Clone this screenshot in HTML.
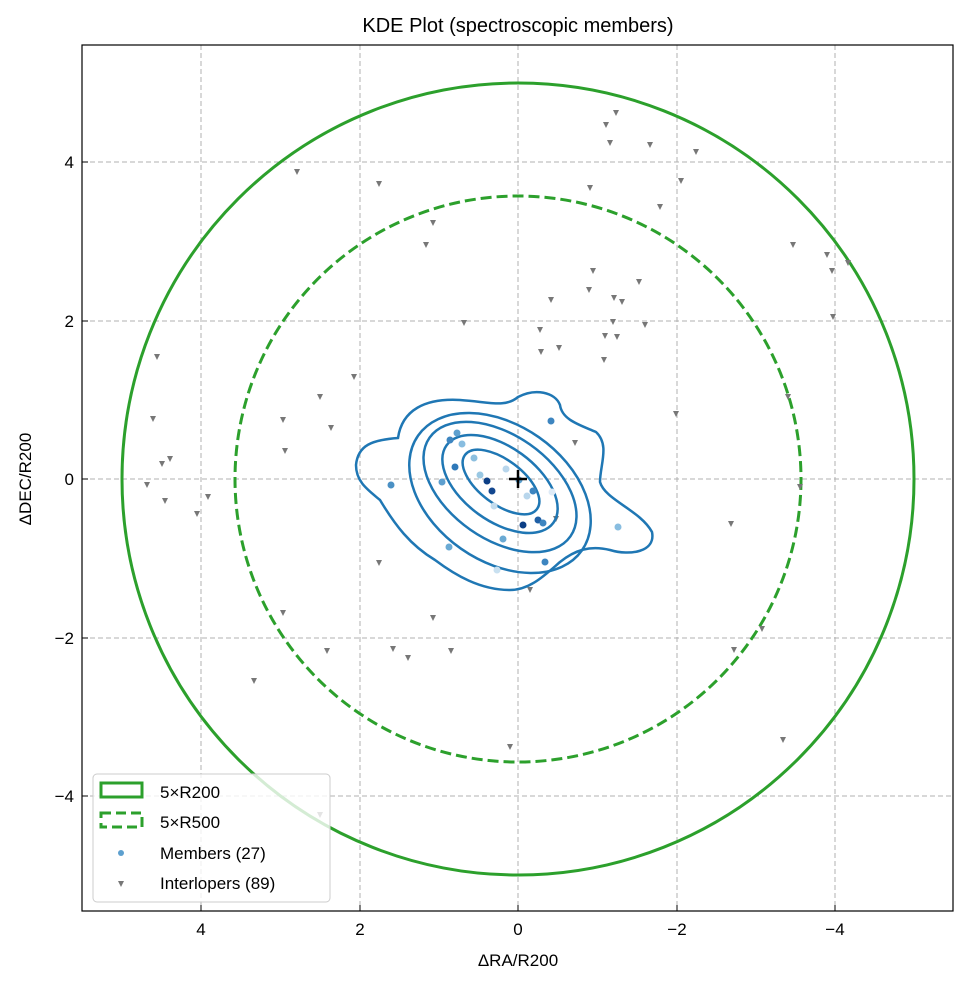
<!DOCTYPE html>
<html><head><meta charset="utf-8"><style>body{margin:0;background:#fff}svg text{font-family:"Liberation Sans",sans-serif;font-size:17px;fill:#000}</style></head><body>
<svg width="969" height="984" viewBox="0 0 969 984" xmlns="http://www.w3.org/2000/svg">
<rect width="969" height="984" fill="#fff"/>
<g stroke="#b0b0b0" stroke-width="1" stroke-dasharray="5,3">
<line x1="201" y1="45" x2="201" y2="911"/><line x1="360" y1="45" x2="360" y2="911"/><line x1="518" y1="45" x2="518" y2="911"/><line x1="677" y1="45" x2="677" y2="911"/><line x1="835" y1="45" x2="835" y2="911"/>
<line x1="82" y1="162" x2="953" y2="162"/><line x1="82" y1="321" x2="953" y2="321"/><line x1="82" y1="479" x2="953" y2="479"/><line x1="82" y1="638" x2="953" y2="638"/><line x1="82" y1="796" x2="953" y2="796"/>
</g>
<circle cx="518" cy="479" r="396" fill="none" stroke="#2ca02c" stroke-width="3"/>
<circle cx="518" cy="479" r="283" fill="none" stroke="#2ca02c" stroke-width="3" stroke-dasharray="11,5"/>
<g fill="#777">
<polygon points="154,354 160,354 157,360"/><polygon points="150,416 156,416 153,422"/><polygon points="159,461 165,461 162,467"/><polygon points="167,456 173,456 170,462"/><polygon points="162,498 168,498 165,504"/><polygon points="144,482 150,482 147,488"/><polygon points="194,511 200,511 197,517"/><polygon points="205,494 211,494 208,500"/><polygon points="282,448 288,448 285,454"/><polygon points="280,417 286,417 283,423"/><polygon points="317,394 323,394 320,400"/><polygon points="328,425 334,425 331,431"/><polygon points="351,374 357,374 354,380"/><polygon points="294,169 300,169 297,175"/><polygon points="376,181 382,181 379,187"/><polygon points="430,220 436,220 433,226"/><polygon points="423,242 429,242 426,248"/><polygon points="461,320 467,320 464,326"/><polygon points="376,560 382,560 379,566"/><polygon points="430,615 436,615 433,621"/><polygon points="390,646 396,646 393,652"/><polygon points="405,655 411,655 408,661"/><polygon points="448,648 454,648 451,654"/><polygon points="280,610 286,610 283,616"/><polygon points="324,648 330,648 327,654"/><polygon points="251,678 257,678 254,684"/><polygon points="317,812 323,812 320,818"/><polygon points="507,744 513,744 510,750"/><polygon points="527,587 533,587 530,593"/><polygon points="537,327 543,327 540,333"/><polygon points="538,349 544,349 541,355"/><polygon points="548,297 554,297 551,303"/><polygon points="556,345 562,345 559,351"/><polygon points="572,440 578,440 575,446"/><polygon points="586,287 592,287 589,293"/><polygon points="613,110 619,110 616,116"/><polygon points="603,122 609,122 606,128"/><polygon points="607,140 613,140 610,146"/><polygon points="647,142 653,142 650,148"/><polygon points="693,149 699,149 696,155"/><polygon points="657,204 663,204 660,210"/><polygon points="678,178 684,178 681,184"/><polygon points="587,185 593,185 590,191"/><polygon points="590,268 596,268 593,274"/><polygon points="619,299 625,299 622,305"/><polygon points="611,295 617,295 614,301"/><polygon points="610,319 616,319 613,325"/><polygon points="602,333 608,333 605,339"/><polygon points="614,334 620,334 617,340"/><polygon points="601,357 607,357 604,363"/><polygon points="636,279 642,279 639,285"/><polygon points="642,322 648,322 645,328"/><polygon points="673,411 679,411 676,417"/><polygon points="728,521 734,521 731,527"/><polygon points="731,647 737,647 734,653"/><polygon points="759,626 765,626 762,632"/><polygon points="790,242 796,242 793,248"/><polygon points="824,252 830,252 827,258"/><polygon points="829,268 835,268 832,274"/><polygon points="845,260 851,260 848,266"/><polygon points="830,314 836,314 833,320"/><polygon points="785,394 791,394 788,400"/><polygon points="797,484 803,484 800,490"/><polygon points="780,737 786,737 783,743"/><polygon points="553,516 559,516 556,522"/>
</g>
<g fill="none" stroke="#1f77b4" stroke-width="2.5">
<path d="M356,465 C358,445 372,440 398,438 C402,410 425,398 460,400 C490,402 505,408 518,397 C535,388 555,392 560,405 C562,420 580,425 596,432 C610,445 600,465 600,482 C605,500 640,510 652,532 C656,552 630,556 610,550 C590,545 575,550 560,562 C545,575 530,590 510,590 C480,590 455,575 435,560 C410,545 395,525 380,500 C368,490 356,482 356,465 Z"/>
<ellipse cx="500" cy="493" rx="100" ry="68" transform="rotate(35 500 493)"/>
<ellipse cx="500" cy="487" rx="86" ry="52" transform="rotate(35 500 487)"/>
<ellipse cx="500" cy="484" rx="66" ry="37" transform="rotate(36 500 484)"/>
<ellipse cx="501" cy="482" rx="45" ry="22" transform="rotate(37 501 482)"/>
</g>
<g>
<circle cx="391" cy="485" r="3.5" fill="#4a90c4"/><circle cx="457" cy="433" r="3.5" fill="#5da0cf"/><circle cx="450" cy="440" r="3.5" fill="#3d85c0"/><circle cx="462" cy="444" r="3.5" fill="#88bde0"/><circle cx="474" cy="458" r="3.5" fill="#8cbfdf"/><circle cx="455" cy="467" r="3.5" fill="#2f78b8"/><circle cx="442" cy="482" r="3.5" fill="#5d9fcf"/><circle cx="480" cy="475" r="3.5" fill="#9ac8e3"/><circle cx="487" cy="481" r="3.5" fill="#0c3f86"/><circle cx="492" cy="491" r="3.5" fill="#13478f"/><circle cx="494" cy="506" r="3.5" fill="#c2dcee"/><circle cx="506" cy="469" r="3.5" fill="#b8d6ec"/><circle cx="519" cy="480" r="3.5" fill="#5da0cf"/><circle cx="533" cy="491" r="3.5" fill="#3d85c0"/><circle cx="527" cy="496" r="3.5" fill="#b8d6ec"/><circle cx="552" cy="492" r="3.5" fill="#deebf7"/><circle cx="538" cy="520" r="3.5" fill="#1f5fa5"/><circle cx="543" cy="523" r="3.5" fill="#3d85c0"/><circle cx="523" cy="525" r="3.5" fill="#0c3f86"/><circle cx="503" cy="539" r="3.5" fill="#6aaad4"/><circle cx="449" cy="547" r="3.5" fill="#6aaad4"/><circle cx="545" cy="562" r="3.5" fill="#3d85c0"/><circle cx="497" cy="570" r="3.5" fill="#c8e0f0"/><circle cx="551" cy="421" r="3.5" fill="#3d85c0"/><circle cx="618" cy="527" r="3.5" fill="#88bde0"/>
</g>
<g stroke="#000" stroke-width="2.5"><line x1="509" y1="479" x2="527" y2="479"/><line x1="518" y1="470" x2="518" y2="488"/></g>
<rect x="82" y="45" width="871" height="866" fill="none" stroke="#000" stroke-width="1.2"/>
<g stroke="#000" stroke-width="1">
<line x1="201" y1="911" x2="201" y2="905"/><line x1="360" y1="911" x2="360" y2="905"/><line x1="518" y1="911" x2="518" y2="905"/><line x1="677" y1="911" x2="677" y2="905"/><line x1="835" y1="911" x2="835" y2="905"/>
<line x1="82" y1="162" x2="88" y2="162"/><line x1="82" y1="321" x2="88" y2="321"/><line x1="82" y1="479" x2="88" y2="479"/><line x1="82" y1="638" x2="88" y2="638"/><line x1="82" y1="796" x2="88" y2="796"/>
</g>
<g text-anchor="middle"><text x="201" y="935">4</text><text x="360" y="935">2</text><text x="518" y="935">0</text><text x="677" y="935">−2</text><text x="835" y="935">−4</text></g>
<g text-anchor="end"><text x="74" y="168">4</text><text x="74" y="327">2</text><text x="74" y="485">0</text><text x="74" y="644">−2</text><text x="74" y="802">−4</text></g>
<text x="518" y="966" text-anchor="middle">ΔRA/R200</text>
<text x="0" y="0" text-anchor="middle" transform="translate(31,479) rotate(-90)">ΔDEC/R200</text>
<text x="518" y="32" text-anchor="middle" style="font-size:20px">KDE Plot (spectroscopic members)</text>
<rect x="93" y="774" width="237" height="128" rx="4" fill="#fff" fill-opacity="0.8" stroke="#ccc"/>
<rect x="101" y="783" width="41" height="14" fill="none" stroke="#2ca02c" stroke-width="3"/>
<rect x="101" y="813" width="41" height="14" fill="none" stroke="#2ca02c" stroke-width="3" stroke-dasharray="10,5"/>
<circle cx="121" cy="853" r="3" fill="#5da0cf"/>
<polygon points="118,881 124,881 121,887" fill="#777"/>
<text x="160" y="798">5×R200</text><text x="160" y="828">5×R500</text><text x="160" y="859">Members (27)</text><text x="160" y="889">Interlopers (89)</text>
</svg>
</body></html>
